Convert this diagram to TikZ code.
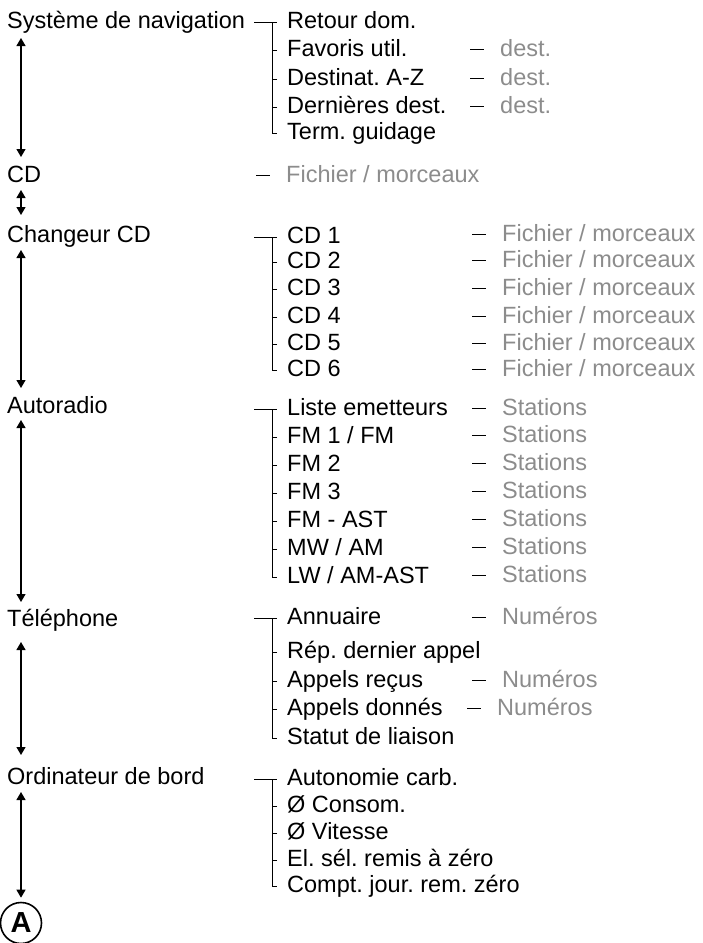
\documentclass[tikz,border=0pt]{standalone}
\usepackage{fontspec}
\setmainfont{Liberation Sans}
\usetikzlibrary{arrows.meta}
\definecolor{MenuGray}{RGB}{140,140,140}
\newcommand{\menuleaf}[1]{\rule[6.5pt]{14pt}{0.9pt}\hspace{16pt}\textcolor{MenuGray}{#1}}
\frenchspacing

\begin{document}
\begin{tikzpicture}[
x=1pt,y=-1pt,
menu/.style={anchor=west,inner xsep=0pt,inner ysep=0pt,text height=17pt,text depth=5pt,
font=\fontsize{23.5}{28}\selectfont},
item/.style={menu,inner xsep=10pt},
leaf/.style={menu},
tree/.style={draw=black,line width=0.9pt},
updown/.style={{Triangle[width=9pt,length=8pt]}-{Triangle[width=9pt,length=8pt]},line width=1.2pt}
]
\useasboundingbox (0,0) rectangle (702,943);
% main menu
\node[menu] (nav) at (7,22) {Système de navigation};
\node[menu] (cd) at (7,176) {CD};
\node[menu] (chg) at (7,236) {Changeur CD};
\node[menu] (radio) at (7,407) {Autoradio};
\node[menu] (tel) at (7,620) {Téléphone};
\node[menu] (obc) at (7,778) {Ordinateur de bord};
\node[draw,circle,line width=1.6pt,minimum size=41pt,inner sep=0pt,
font=\fontsize{29}{30}\selectfont\bfseries] (A) at (21,923) {A};
\draw[updown] ([xshift=14pt,yshift=-16pt]nav.west) -- ([xshift=14pt,yshift=19pt]cd.west);
\draw[updown] ([xshift=14pt,yshift=-14pt]cd.west) -- ([xshift=14pt,yshift=21pt]chg.west);
\draw[updown] ([xshift=14pt,yshift=-14pt]chg.west) -- ([xshift=14pt,yshift=19pt]radio.west);
\draw[updown] ([xshift=14pt,yshift=-13pt]radio.west) -- ([xshift=14pt,yshift=18pt]tel.west);
\draw[updown] ([xshift=14pt,yshift=-22pt]tel.west) -- ([xshift=14pt,yshift=23pt]obc.west);
\draw[updown] ([xshift=14pt,yshift=-14pt]obc.west) -- ([yshift=4pt]A.north);

% navigation
\coordinate (nav-in) at (254,22);
\node[item] (retour) at (277,22) {Retour dom.};
\node[item] (fav) at (277,50) {Favoris util.};
\node[item] (destaz) at (277,79) {Destinat. A-Z};
\node[item] (lastdest) at (277,107) {Dernières dest.};
\node[item] (guid) at (277,133) {Term. guidage};
\node[leaf] (fav-d) at (470,50) {\menuleaf{dest.}};
\node[leaf] (destaz-d) at (470,79) {\menuleaf{dest.}};
\node[leaf] (lastdest-d) at (470,107) {\menuleaf{dest.}};
\draw[tree] (nav-in) -- (retour.west); \draw[tree] ([xshift=-5pt]retour.west) |- (guid.west);
\draw[tree] (fav.west) -- ++(-5,0); \draw[tree] (destaz.west) -- ++(-5,0); \draw[tree] (lastdest.west) -- ++(-5,0);

% CD
\node[leaf] (cd-f) at (256,176) {\menuleaf{Fichier / morceaux}};

% CD changer
\coordinate (chg-in) at (254,237);
\node[item] (chg1) at (277,237) {CD 1};
\node[item] (chg2) at (277,262) {CD 2};
\node[item] (chg3) at (277,289) {CD 3};
\node[item] (chg4) at (277,317) {CD 4};
\node[item] (chg5) at (277,344) {CD 5};
\node[item] (chg6) at (277,370) {CD 6};
\node[leaf] (chg1-f) at (472,235) {\menuleaf{Fichier / morceaux}};
\node[leaf] (chg2-f) at (472,261) {\menuleaf{Fichier / morceaux}};
\node[leaf] (chg3-f) at (472,289) {\menuleaf{Fichier / morceaux}};
\node[leaf] (chg4-f) at (472,317) {\menuleaf{Fichier / morceaux}};
\node[leaf] (chg5-f) at (472,344) {\menuleaf{Fichier / morceaux}};
\node[leaf] (chg6-f) at (472,370) {\menuleaf{Fichier / morceaux}};
\draw[tree] (chg-in) -- (chg1.west); \draw[tree] ([xshift=-5pt]chg1.west) |- (chg6.west);
\draw[tree] (chg2.west) -- ++(-5,0); \draw[tree] (chg3.west) -- ++(-5,0);
\draw[tree] (chg4.west) -- ++(-5,0); \draw[tree] (chg5.west) -- ++(-5,0);

% radio
\coordinate (radio-in) at (254,409);
\node[item] (list) at (277,409) {Liste emetteurs};
\node[item] (fm1) at (277,437) {FM 1 / FM};
\node[item] (fm2) at (277,465) {FM 2};
\node[item] (fm3) at (277,493) {FM 3};
\node[item] (fmast) at (277,521) {FM - AST};
\node[item] (mw) at (277,549) {MW / AM};
\node[item] (lw) at (277,577) {LW / AM-AST};
\node[leaf] (list-s) at (472,409) {\menuleaf{Stations}};
\node[leaf] (fm1-s) at (472,436) {\menuleaf{Stations}};
\node[leaf] (fm2-s) at (472,464) {\menuleaf{Stations}};
\node[leaf] (fm3-s) at (472,492) {\menuleaf{Stations}};
\node[leaf] (fmast-s) at (472,520) {\menuleaf{Stations}};
\node[leaf] (mw-s) at (472,548) {\menuleaf{Stations}};
\node[leaf] (lw-s) at (472,576) {\menuleaf{Stations}};
\draw[tree] (radio-in) -- (list.west); \draw[tree] ([xshift=-5pt]list.west) |- (lw.west);
\draw[tree] (fm1.west) -- ++(-5,0); \draw[tree] (fm2.west) -- ++(-5,0); \draw[tree] (fm3.west) -- ++(-5,0);
\draw[tree] (fmast.west) -- ++(-5,0); \draw[tree] (mw.west) -- ++(-5,0);

% telephone
\coordinate (tel-in) at (254,618);
\node[item] (book) at (277,618) {Annuaire};
\node[item] (redial) at (277,652) {Rép. dernier appel};
\node[item] (recv) at (277,681) {Appels reçus};
\node[item] (dial) at (277,709) {Appels donnés};
\node[item] (link) at (277,738) {Statut de liaison};
\node[leaf] (book-n) at (472,618) {\menuleaf{Numéros}};
\node[leaf] (recv-n) at (472,681) {\menuleaf{Numéros}};
\node[leaf] (dial-n) at (467,709) {\menuleaf{Numéros}};
\draw[tree] (tel-in) -- (book.west); \draw[tree] ([xshift=-5pt]book.west) |- (link.west);
\draw[tree] (redial.west) -- ++(-5,0); \draw[tree] (recv.west) -- ++(-5,0); \draw[tree] (dial.west) -- ++(-5,0);

% on-board computer
\coordinate (obc-in) at (254,779);
\node[item] (range) at (277,779) {Autonomie carb.};
\node[item] (cons) at (277,806) {Ø Consom.};
\node[item] (speed) at (277,833) {Ø Vitesse};
\node[item] (reset) at (277,860) {El. sél. remis à zéro};
\node[item] (trip) at (277,886) {Compt. jour. rem. zéro};
\draw[tree] (obc-in) -- (range.west); \draw[tree] ([xshift=-5pt]range.west) |- (trip.west);
\draw[tree] (cons.west) -- ++(-5,0); \draw[tree] (speed.west) -- ++(-5,0); \draw[tree] (reset.west) -- ++(-5,0);
\end{tikzpicture}
\end{document}
